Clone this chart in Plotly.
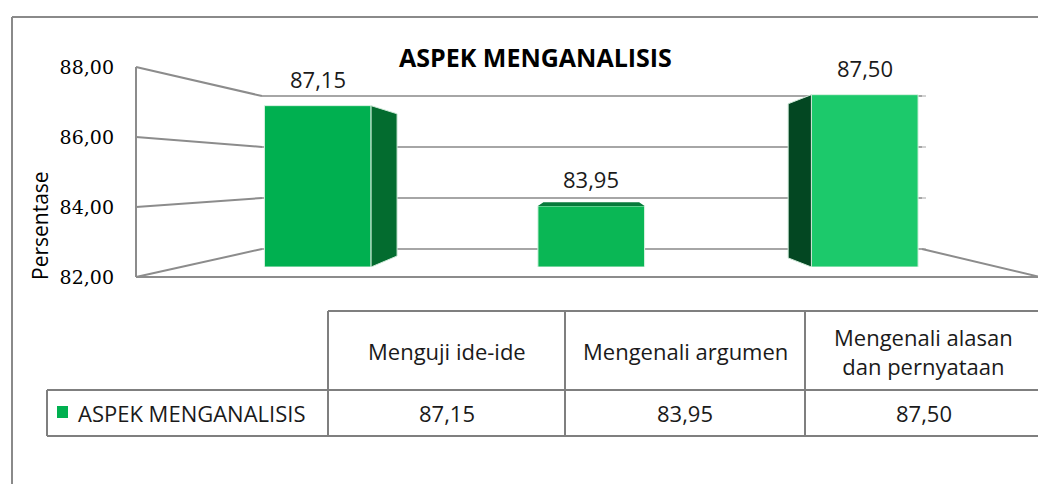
import plotly.graph_objects as go

# ---------------- data ----------------
categories = ["Menguji ide-ide", "Mengenali argumen", "Mengenali alasan<br>dan pernyataan"]
values = [87.15, 83.95, 87.50]
series_name = "ASPEK MENGANALISIS"
y_ticks = [82, 84, 86, 88]
y_min, y_max = 82, 88

# ---------------- styles ----------------
W, H = 1046, 484
OFF = 8  # page body margin offset compensation
front_colors = ["#00b050", "#0ab755", "#1cc96b"]
side_colors = ["#036c2f", "#067a3a", "#034722"]
line_col = "#8c8c8c"
txt_col = "#1a1a1a"
SANS = "Open Sans, sans-serif"
SERIF = "DejaVu Serif, serif"


def px(x):
    return (x - OFF) / W


def py(y):
    return 1 - (y - OFF) / H


x_idx = list(range(len(categories)))
bar_w = 0.39

fig = go.Figure()
fig.add_trace(go.Bar(
    x=x_idx, y=[v - y_min for v in values], base=y_min, width=bar_w,
    marker=dict(color=front_colors, line=dict(color="#d9f2e2", width=1)),
    name=series_name, hoverinfo="skip",
))
# invisible trace carrying the front (left) value axis
fig.add_trace(go.Scatter(x=[0, 1], y=[y_min, y_max], xaxis="x2", yaxis="y2",
                         mode="markers", marker=dict(opacity=0), hoverinfo="skip",
                         showlegend=False))

shapes = []
# 3D faces derived from the data
half = bar_w / 2
center = (len(values) - 1) / 2
for i, v in enumerate(values):
    if i < center:
        dx, dyt, dyb = 0.095, 0.26, 0.35
        xa = i + half
        xb = xa + dx
    elif i > center:
        dx, dyt, dyb = 0.085, 0.29, 0.29
        xa = i - half
        xb = xa - dx
    else:
        shapes.append(dict(type="path", xref="x", yref="y",
                           path=f"M {i-half},{v} L {i-half+0.02},{v+0.12} L {i+half-0.02},{v+0.12} L {i+half},{v} Z",
                           fillcolor=side_colors[i], line=dict(width=0), layer="above"))
        continue
    shapes.append(dict(type="path", xref="x", yref="y",
                       path=f"M {xa},{v} L {xb},{v-dyt} L {xb},{y_min+dyb} L {xa},{y_min} Z",
                       fillcolor=side_colors[i], line=dict(color="#cfe9d8", width=1), layer="above"))

# perspective walls (decoration of the axes)
fx, bx, bx2, rx = 136, 262, 922, 1040
def y_front(v):
    return 277 - (v - y_min) * 35.0
def y_back(v):
    return 249 - (v - y_min) * 25.5

for t in y_ticks:
    shapes.append(dict(type="line", xref="paper", yref="paper",
                       x0=px(fx), y0=py(y_front(t)), x1=px(bx), y1=py(y_back(t)),
                       line=dict(color=line_col, width=2), layer="below"))
    shapes.append(dict(type="line", xref="paper", yref="paper",
                       x0=px(bx), y0=py(y_back(t)), x1=px(bx2), y1=py(y_back(t)),
                       line=dict(color="#a6a6a6", width=2), layer="below"))
    shapes.append(dict(type="line", xref="paper", yref="paper",
                       x0=px(bx2), y0=py(y_back(t)), x1=px(bx2 + 4), y1=py(y_back(t)),
                       line=dict(color="#a6a6a6", width=1), layer="below"))
# left wall edge, floor front edge, right floor edge
shapes.append(dict(type="line", xref="paper", yref="paper",
                   x0=px(fx), y0=py(y_front(y_min)), x1=px(fx), y1=py(y_front(y_max)),
                   line=dict(color=line_col, width=2), layer="below"))
shapes.append(dict(type="line", xref="paper", yref="paper",
                   x0=px(fx), y0=py(y_front(y_min)), x1=px(rx), y1=py(y_front(y_min)),
                   line=dict(color=line_col, width=2), layer="below"))
shapes.append(dict(type="line", xref="paper", yref="paper",
                   x0=px(bx2), y0=py(y_back(y_min)), x1=px(rx), y1=py(y_front(y_min)),
                   line=dict(color=line_col, width=2), layer="below"))

# outer chart border
shapes.append(dict(type="line", xref="paper", yref="paper", x0=px(12), y0=py(17), x1=1, y1=py(17),
                   line=dict(color="#8a8a8a", width=2)))
shapes.append(dict(type="line", xref="paper", yref="paper", x0=px(12), y0=py(17), x1=px(12), y1=0,
                   line=dict(color="#8a8a8a", width=2)))

# data table
col_x = [328, 565, 805, 1042]
row_y = [311, 390, 436]
leg_x = 47
tcol = "#7f7f7f"
def seg(x0, y0, x1, y1):
    shapes.append(dict(type="line", xref="paper", yref="paper", x0=px(x0), y0=py(y0), x1=px(x1), y1=py(y1),
                       line=dict(color=tcol, width=2)))
seg(col_x[0], row_y[0], col_x[-1], row_y[0])
seg(leg_x, row_y[1], col_x[-1], row_y[1])
seg(leg_x, row_y[2], col_x[-1], row_y[2])
seg(leg_x, row_y[1], leg_x, row_y[2])
for cx in col_x:
    seg(cx, row_y[0], cx, row_y[2])
# legend marker
shapes.append(dict(type="rect", xref="paper", yref="paper", x0=px(57), x1=px(68), y0=py(406), y1=py(418),
                   fillcolor=front_colors[0], line=dict(width=0)))

annotations = []
def ann(text, x, y, size, **kw):
    d = dict(text=text, x=px(x), y=py(y), xref="paper", yref="paper", showarrow=False,
             xanchor="center", yanchor="middle", align="center",
             font=dict(family=SANS, size=size, color=txt_col))
    d.update(kw)
    annotations.append(d)

# title
ann("<b>ASPEK MENGANALISIS</b>", 535, 57, 25, font=dict(family=SANS, size=25, color="#000000"))
# y-axis title
ann("Persentase", 40, 226, 21, textangle=-90, font=dict(family=SANS, size=21, color="#000000"))
# data labels
for i, v in enumerate(values):
    annotations.append(dict(text=f"{v:.2f}".replace(".", ","), x=i, y=v, xref="x", yref="y",
                            xanchor="center", yanchor="middle",
                            yshift=27, showarrow=False, font=dict(family=SANS, size=22, color=txt_col)))
# table text
for i, c in enumerate(categories):
    xc = (col_x[i] + col_x[i + 1]) / 2
    ann(c, xc, 351, 22)
    ann(f"{values[i]:.2f}".replace(".", ","), xc, 413, 22)
ann(series_name, 76, 413, 22, xanchor="left", align="left")

fig.update_layout(
    width=W, height=H, autosize=False,
    margin=dict(l=0, r=0, t=0, b=0, pad=0, autoexpand=False),
    paper_bgcolor="white", plot_bgcolor="rgba(0,0,0,0)",
    showlegend=False, separators=",.",
    xaxis=dict(domain=[px(181), px(1001.5)], range=[-0.5, 2.5], visible=False, fixedrange=True),
    yaxis=dict(domain=[py(267), py(79)], range=[y_min, y_max], visible=False, fixedrange=True),
    xaxis2=dict(domain=[0.0, 0.05], anchor="y2", visible=False, range=[0, 1]),
    yaxis2=dict(domain=[py(277), py(67)], range=[y_min, y_max], anchor="free", position=px(114),
                tickvals=y_ticks, tickformat=".2f", showgrid=False, zeroline=False, showline=False,
                automargin=False,
                ticks="", tickfont=dict(family=SERIF, size=19, color="#000000")),
    shapes=shapes, annotations=annotations,
)

fig.write_html("out.html")
